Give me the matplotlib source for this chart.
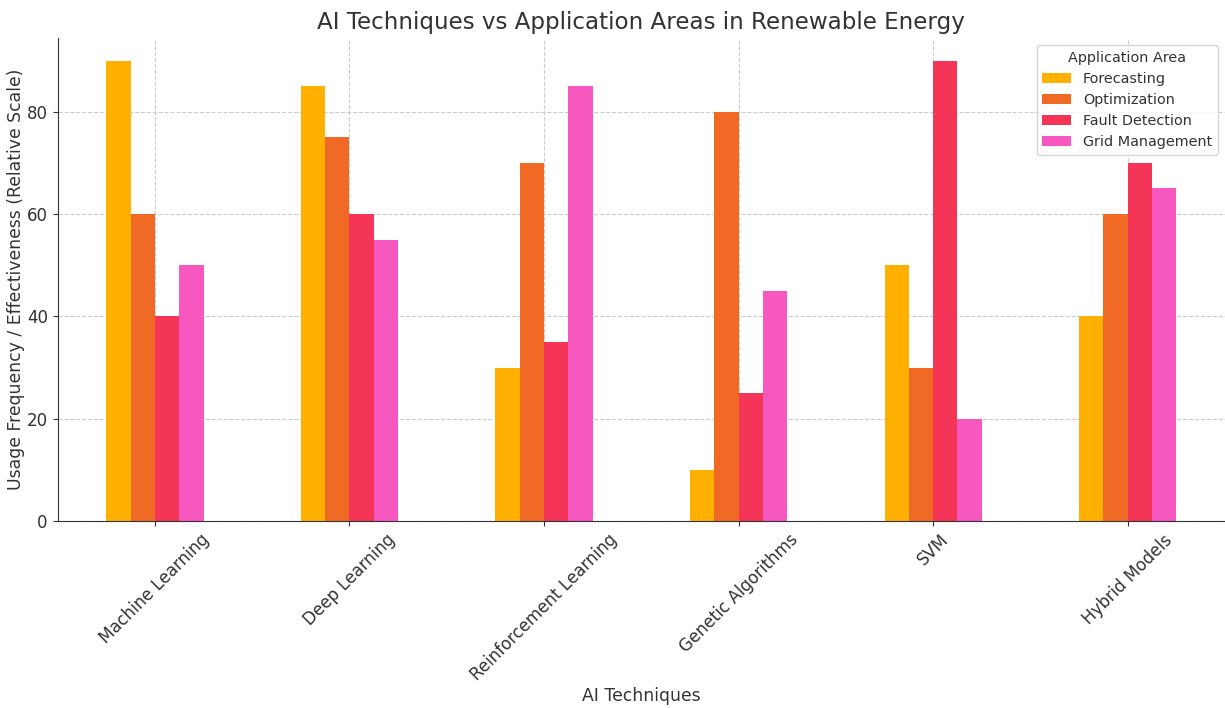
import matplotlib.pyplot as plt
import numpy as np

techniques = ["Machine Learning", "Deep Learning", "Reinforcement Learning",
              "Genetic Algorithms", "SVM", "Hybrid Models"]
areas = ["Forecasting", "Optimization", "Fault Detection", "Grid Management"]
forecasting = [90, 85, 30, 10, 50, 40]
optimization = [60, 75, 70, 80, 30, 60]
fault_detection = [40, 60, 35, 25, 90, 70]
grid_management = [50, 55, 85, 45, 20, 65]
colors = ["#FFB000", "#F06A25", "#F43558", "#F758C0"]

series = [forecasting, optimization, fault_detection, grid_management]

dark = "#333333"
plt.rcParams.update({"text.color": dark, "axes.labelcolor": dark,
                     "xtick.color": dark, "ytick.color": dark,
                     "axes.edgecolor": dark})

fig, ax = plt.subplots(figsize=(12.25, 7.08), dpi=100)
x = np.arange(len(techniques))
w = 0.125
for i, (vals, name) in enumerate(zip(series, areas)):
    ax.bar(x + (i - 1.5) * w, vals, w, color=colors[i], label=name)

ax.set_xlim(-0.5, 5.5)
ax.set_xticks(x)
ax.set_xticklabels(techniques, rotation=45, fontsize=12)
ax.tick_params(axis="y", labelsize=12)
ax.grid(True, linestyle="--", color="#cccccc", linewidth=0.8)
ax.set_axisbelow(True)
for s in ["top", "right"]:
    ax.spines[s].set_visible(False)

ax.set_title("AI Techniques vs Application Areas in Renewable Energy", fontsize=16.6)
ax.set_xlabel("AI Techniques", fontsize=12.4, labelpad=2)
ax.set_ylabel("Usage Frequency / Effectiveness (Relative Scale)", fontsize=12.4, labelpad=1)
ax.legend(title="Application Area", loc="upper right", fontsize=10.4, title_fontsize=10.4)

fig.subplots_adjust(left=0.047, right=1.0, top=0.947, bottom=0.264)
fig.savefig("out.png")
